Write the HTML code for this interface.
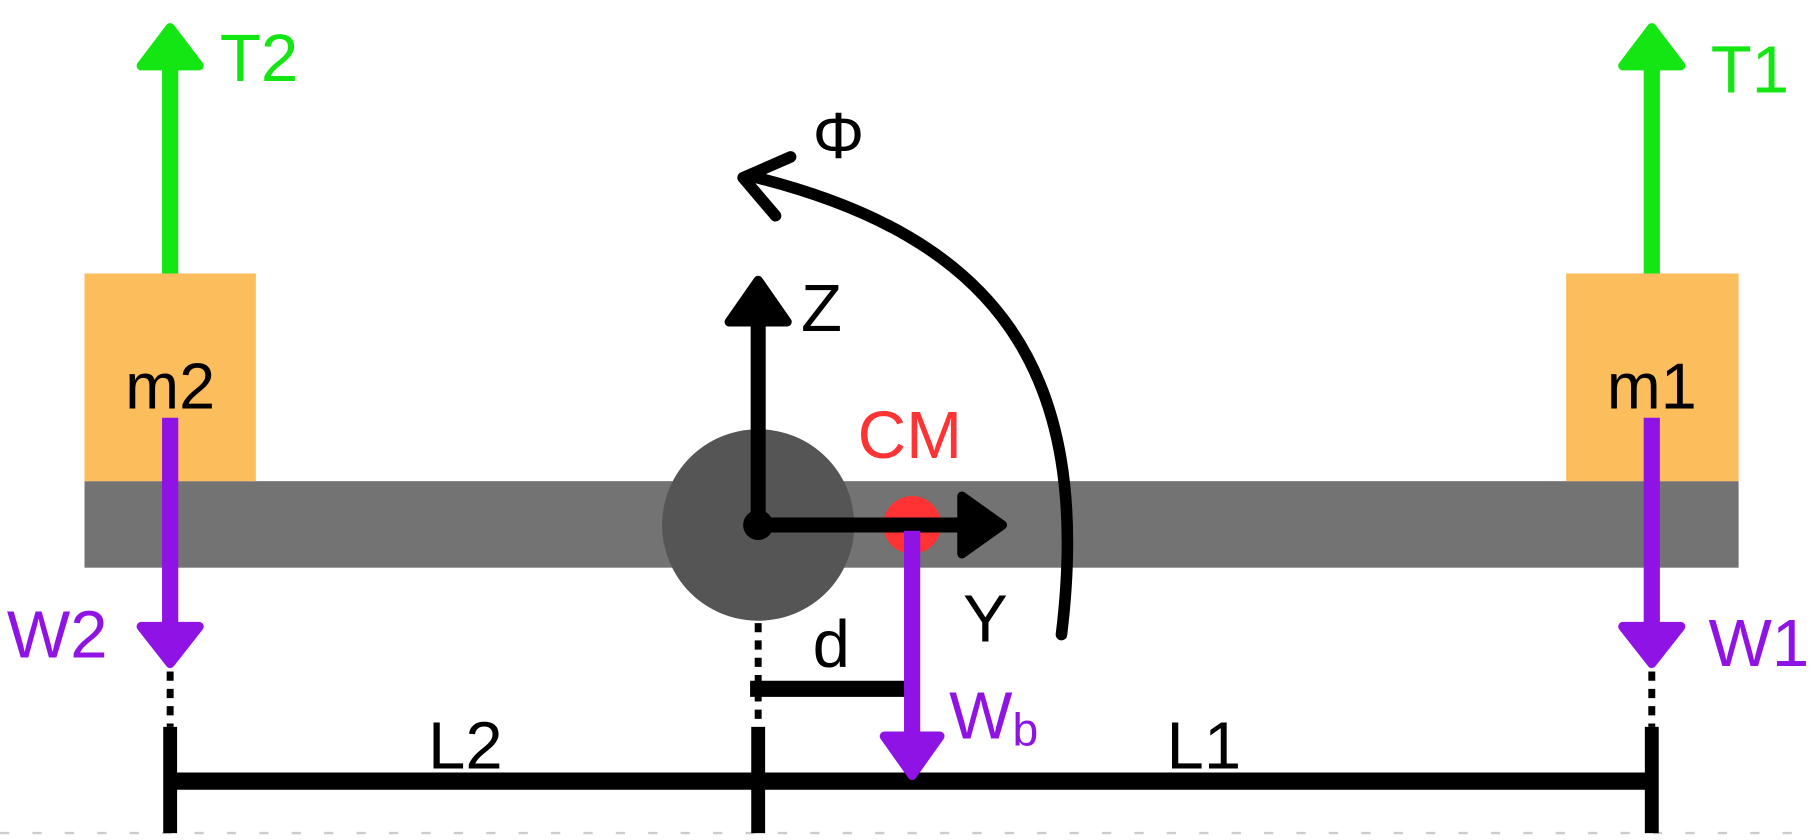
<!DOCTYPE html>
<html><head><meta charset="utf-8"><style>
html,body{margin:0;padding:0;background:#fff;width:1815px;height:840px;overflow:hidden}
svg{display:block}
text{font-family:"Liberation Sans","DejaVu Sans",sans-serif}
</style></head><body>
<svg width="1815" height="840" viewBox="0 0 1568 728" preserveAspectRatio="none">
<line x1="0" y1="722" x2="1568" y2="722" stroke="#ccc" stroke-width="2" stroke-dasharray="8 20"/>
<rect x="73" y="417" width="1429" height="75" fill="#737373"/>
<rect x="73" y="237" width="148" height="180" fill="#fcbd5c"/>
<rect x="1353" y="237" width="149" height="180" fill="#fcbd5c"/>
<text x="147" y="354" font-size="56" text-anchor="middle">m2</text>
<text x="1427" y="354" font-size="56" text-anchor="middle">m1</text>
<g fill="#13e613" stroke="#13e613" stroke-linejoin="round">
<line x1="147" y1="237" x2="147" y2="55" stroke-width="14"/>
<polygon points="147,24 122,57 172,57" stroke-width="8"/>
</g>
<g fill="#13e613" stroke="#13e613" stroke-linejoin="round">
<line x1="1427" y1="237" x2="1427" y2="55" stroke-width="14"/>
<polygon points="1427,24 1402,57 1452,57" stroke-width="8"/>
</g>
<text x="190" y="70" font-size="58" fill="#13e613">T2</text>
<text x="1478" y="80" font-size="58" fill="#13e613">T1</text>
<g fill="#9013e6" stroke="#9013e6" stroke-linejoin="round">
<line x1="147" y1="362" x2="147" y2="545" stroke-width="14"/>
<polygon points="147,575 122,543 172,543" stroke-width="8"/>
</g>
<g fill="#9013e6" stroke="#9013e6" stroke-linejoin="round">
<line x1="1427" y1="362" x2="1427" y2="545" stroke-width="14"/>
<polygon points="1427,575 1402,543 1452,543" stroke-width="8"/>
</g>
<text x="6" y="570" font-size="58" fill="#9013e6">W2</text>
<text x="1476" y="577" font-size="58" fill="#9013e6">W1</text>
<g stroke="#000" stroke-width="6" stroke-dasharray="8 7">
<line x1="147" y1="582" x2="147" y2="630"/>
<line x1="655" y1="540" x2="655" y2="630"/>
<line x1="1427" y1="582" x2="1427" y2="630"/>
</g>
<g stroke="#000">
<line x1="147" y1="630" x2="147" y2="722" stroke-width="12"/>
<line x1="655" y1="630" x2="655" y2="722" stroke-width="12"/>
<line x1="1427" y1="630" x2="1427" y2="722" stroke-width="12"/>
<line x1="147" y1="677" x2="1427" y2="677" stroke-width="15"/>
</g>
<text x="402" y="666" font-size="58" text-anchor="middle">L2</text>
<text x="1040" y="666" font-size="58" text-anchor="middle">L1</text>
<circle cx="655" cy="455" r="83" fill="#555"/>
<text x="786" y="397" font-size="58" fill="#ff3333" text-anchor="middle">CM</text>
<circle cx="788" cy="455" r="25" fill="#ff3333"/>
<g fill="#000" stroke="#000" stroke-linejoin="round">
<line x1="655" y1="455" x2="655" y2="278" stroke-width="13"/>
<polygon points="655,243 630,279 680,279" stroke-width="8"/>
</g>
<g fill="#000" stroke="#000" stroke-linejoin="round">
<line x1="655" y1="455" x2="832" y2="455" stroke-width="13"/>
<polygon points="866,455 831,430 831,480" stroke-width="8"/>
</g>
<circle cx="655" cy="455" r="13" fill="#000"/>
<text x="692" y="287" font-size="58">Z</text>
<text x="832" y="556" font-size="58">Y</text>
<line x1="648" y1="597" x2="782" y2="597" stroke="#000" stroke-width="14"/>
<text x="702" y="578" font-size="58">d</text>
<g fill="#9013e6" stroke="#9013e6" stroke-linejoin="round">
<line x1="788" y1="460" x2="788" y2="640" stroke-width="14"/>
<polygon points="788,672 764,638 812,638" stroke-width="8"/>
</g>
<text x="820" y="640" font-size="58" fill="#9013e6">W<tspan font-size="40" dy="6">b</tspan></text>
<g fill="none" stroke="#000" stroke-width="10" stroke-linecap="round" stroke-linejoin="round">
<path d="M917,550 C945,320 860,205 650,153"/>
<polyline points="683,136 642,154 670,187"/>
</g>
<text x="702" y="137" font-size="56">Φ</text>
</svg>
</body></html>
